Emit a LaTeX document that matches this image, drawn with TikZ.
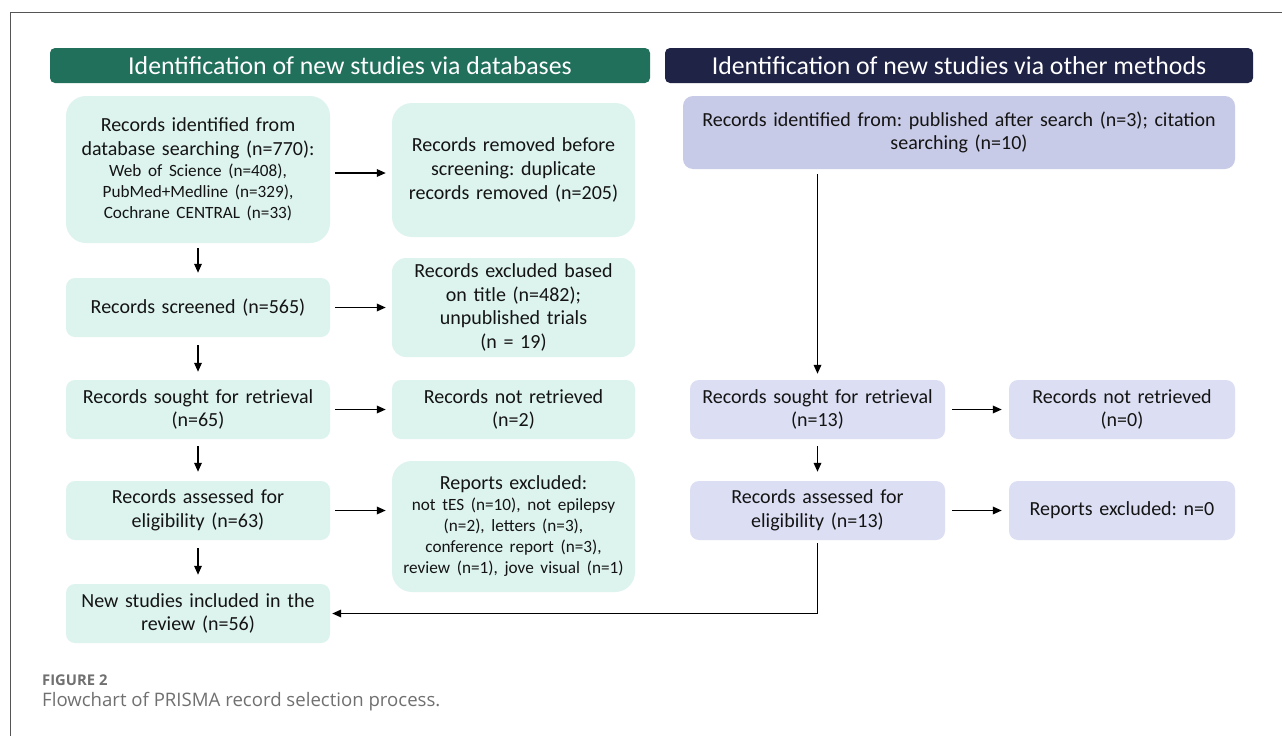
\documentclass[tikz,border=0pt]{standalone}
\usepackage{fontspec}
\setmainfont{Carlito}
\newfontfamily\capfont{Open Sans}
\usetikzlibrary{arrows.meta}
\definecolor{greenhead}{HTML}{21705B}
\definecolor{navyhead}{HTML}{1F2346}
\definecolor{mint}{HTML}{DDF4EE}
\definecolor{lavdark}{HTML}{C8CBE7}
\definecolor{lavlight}{HTML}{DCDFF4}
\definecolor{txt}{HTML}{141414}
\definecolor{capgray}{HTML}{707070}
\definecolor{framegray}{HTML}{555555}
\newcommand{\mainsz}{\fontsize{20}{23.8}\selectfont}
\newcommand{\smallsz}{\fontsize{17.2}{21}\selectfont}
\frenchspacing
\begin{document}
\begin{tikzpicture}[x=1pt,y=-1pt,
  header/.style={rounded corners=5pt, text=white, inner sep=0pt,
    font=\fontsize{25.8}{30}\selectfont, anchor=center},
  fbox/.style={rounded corners=9pt, inner sep=0pt, align=center,
    text=txt, font=\mainsz, anchor=center},
  mintbox/.style={fbox, fill=mint},
  lavbox/.style={fbox, fill=lavlight},
  arr/.style={-{Triangle[length=9pt,width=7.5pt]}, line width=1.7pt, draw=black},
]
\useasboundingbox (0,0) rectangle (1282,736);
\fill[white] (0,0) rectangle (1282,736);
\draw[framegray, line width=1pt] (10,736) -- (10,12) -- (1282,12);

% headers
\node[header, fill=greenhead, minimum width=600pt, minimum height=35pt] (H1) at (350,65.5)
  {Identification of new studies via databases};
\node[header, fill=navyhead, minimum width=588pt, minimum height=35pt] (H2) at (959,65.5)
  {Identification of new studies via other methods};

% left column
\node[mintbox, rounded corners=20pt, minimum width=264pt, minimum height=147pt, text width=256pt] (A) at (198,169.5)
  {Records identified from\\database searching (n=770):\par
   {\smallsz Web of Science (n=408),\\PubMed+Medline (n=329),\\Cochrane CENTRAL (n=33)\par}};
\node[mintbox, rounded corners=20pt, minimum width=243pt, minimum height=134pt, text width=238pt] (B) at (513.5,170)
  {Records removed before\\screening: duplicate\\records removed (n=205)};
\node[mintbox, minimum width=264pt, minimum height=59pt, text width=256pt] (C) at (198,307.5)
  {Records screened (n=565)};
\node[mintbox, rounded corners=14pt, minimum width=243pt, minimum height=99pt, text width=238pt] (D) at (513.5,307.5)
  {Records excluded based\\on title (n=482);\\unpublished trials\\(n = 19)};
\node[mintbox, minimum width=264pt, minimum height=59pt, text width=256pt] (E) at (198,409.5)
  {Records sought for retrieval\\(n=65)};
\node[mintbox, minimum width=243pt, minimum height=59pt, text width=238pt] (F) at (513.5,409.5)
  {Records not retrieved\\(n=2)};
\node[mintbox, minimum width=264pt, minimum height=59pt, text width=256pt] (G) at (198,510.5)
  {Records assessed for\\eligibility (n=63)};
\node[mintbox, rounded corners=20pt, minimum width=243pt, minimum height=131pt, text width=238pt] (Hx) at (513.5,526.5)
  {Reports excluded:\par
   {\smallsz not tES (n=10), not epilepsy\\(n=2), letters (n=3),\\conference report (n=3),\\review (n=1), jove visual (n=1)\par}};
\node[mintbox, minimum width=264pt, minimum height=59pt, text width=256pt] (I) at (198,613.5)
  {New studies included in the\\review (n=56)};

% right column
\node[fbox, fill=lavdark, rounded corners=10pt, minimum width=552pt, minimum height=73pt, text width=545pt] (J) at (959,132.5)
  {Records identified from: published after search (n=3); citation\\searching (n=10)};
\node[lavbox, minimum width=255pt, minimum height=59pt, text width=250pt] (K) at (817.5,409.5)
  {Records sought for retrieval\\(n=13)};
\node[lavbox, minimum width=226pt, minimum height=59pt, text width=222pt] (L) at (1122,409.5)
  {Records not retrieved\\(n=0)};
\node[lavbox, minimum width=255pt, minimum height=59pt, text width=250pt] (M) at (817.5,510.5)
  {Records assessed for\\eligibility (n=13)};
\node[lavbox, minimum width=226pt, minimum height=59pt, text width=222pt] (N) at (1122,510.5)
  {Reports excluded: n=0};

% connectors
\draw[arr, shorten <=5pt, shorten >=6pt] (A.east |- 0,173) -- (B.west |- 0,173);
\draw[arr, shorten <=5pt, shorten >=6pt] (C.east) -- (C.east -| D.west);
\draw[arr, shorten <=5pt, shorten >=6pt] (E.east) -- (F.west);
\draw[arr, shorten <=5pt, shorten >=6pt] (G.east) -- (G.east -| Hx.west);
\draw[arr, shorten <=5pt, shorten >=5pt] (A.south) -- (C.north);
\draw[arr, shorten <=8pt, shorten >=8pt] (C.south) -- (E.north);
\draw[arr, shorten <=7pt, shorten >=9pt] (E.south) -- (G.north);
\draw[arr, shorten <=8pt, shorten >=9pt] (G.south) -- (I.north);

\draw[arr, shorten <=5pt, shorten >=6pt] (K.north |- J.south) -- (K.north);
\draw[arr, shorten <=7pt, shorten >=7pt] (K.east) -- (L.west);
\draw[arr, shorten <=7pt, shorten >=9pt] (K.south) -- (M.north);
\draw[arr, shorten <=7pt, shorten >=7pt] (M.east) -- (N.west);
\draw[arr, shorten <=3pt, shorten >=2pt] (M.south) -- (M.south |- I.east) -- (I.east);

% caption
\node[anchor=west, inner sep=0pt, text=capgray, font=\capfont\bfseries\fontsize{14.8}{17}\selectfont] (cap1) at (42,680) {FIGURE 2};
\node[anchor=west, inner sep=0pt, text=capgray, font=\capfont\fontsize{18.6}{22}\selectfont] (cap2) at (42,702) {Flowchart of PRISMA record selection process.};
\end{tikzpicture}
\end{document}
